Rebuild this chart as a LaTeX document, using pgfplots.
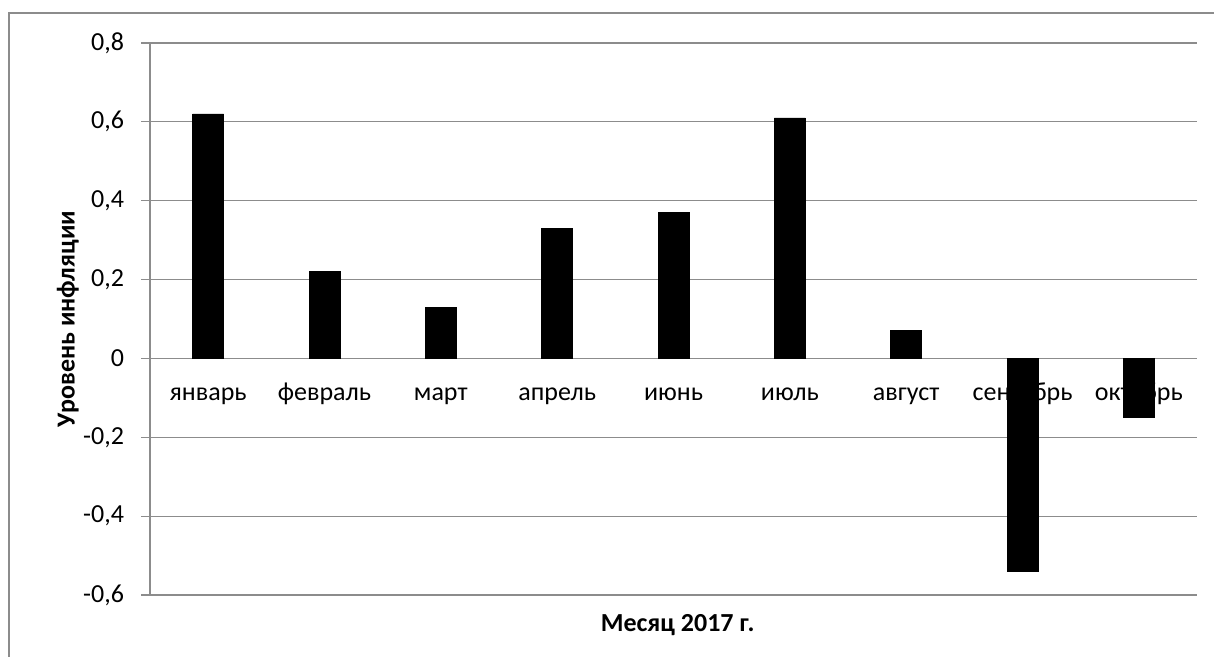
\documentclass[border=0pt]{standalone}
\usepackage{fontspec}
\setmainfont{Carlito}
\usepackage{pgfplots}
\pgfplotsset{compat=1.18}
\definecolor{gridgray}{RGB}{140,140,140}
\begin{document}
\begin{tikzpicture}
\begin{axis}[
  scale only axis, width=523.5pt, height=276pt,
  xmin=-0.5, xmax=8.5, ymin=-0.6, ymax=0.8,
  axis x line*=middle, axis y line*=left,
  ytick={-0.6,-0.4,-0.2,0,0.2,0.4,0.6,0.8},
  ymajorgrids, grid style={gridgray, line width=0.6pt},
  axis line style={gridgray, line width=0.6pt},
  xtick={0,...,8},
  xticklabels={январь,февраль,март,апрель,июнь,июль,август,сентябрь,октябрь},
  x tick style={draw=none},
  y tick style={gridgray, line width=0.6pt},
  tick align=center, major tick length=9pt,
  yticklabel={\pgfmathprintnumber[fixed,precision=1,use comma,assume math mode=true]{\tick}\hspace*{5pt}},
  every tick label/.append style={font=\fontsize{13}{15}\selectfont, text=black},
  xticklabel style={anchor=base, yshift=-16.5pt},
  yticklabel style={anchor=east},
  xlabel={Месяц 2017 г.}, ylabel={Уровень инфляции},
  every axis x label/.style={at={(axis description cs:0.504,-0.067)}, anchor=base, font=\fontsize{13}{15}\selectfont\bfseries},
  every axis y label/.style={at={(axis description cs:-0.0785,0.5)}, anchor=center, rotate=90, font=\fontsize{13}{15}\selectfont\bfseries},
]
\addplot[ybar, bar width=15.5pt, fill=black, draw=black] coordinates {
(0,0.62) (1,0.22) (2,0.13) (3,0.33) (4,0.37) (5,0.61) (6,0.07) (7,-0.54) (8,-0.15)};
\end{axis}
\draw[gridgray, line width=0.75pt] (-70.5pt,-40pt) -- (-70.5pt,291pt) -- (540pt,291pt);
\pgfresetboundingbox
\useasboundingbox (-75pt,-31pt) rectangle (532pt,297.5pt);
\end{tikzpicture}
\end{document}
